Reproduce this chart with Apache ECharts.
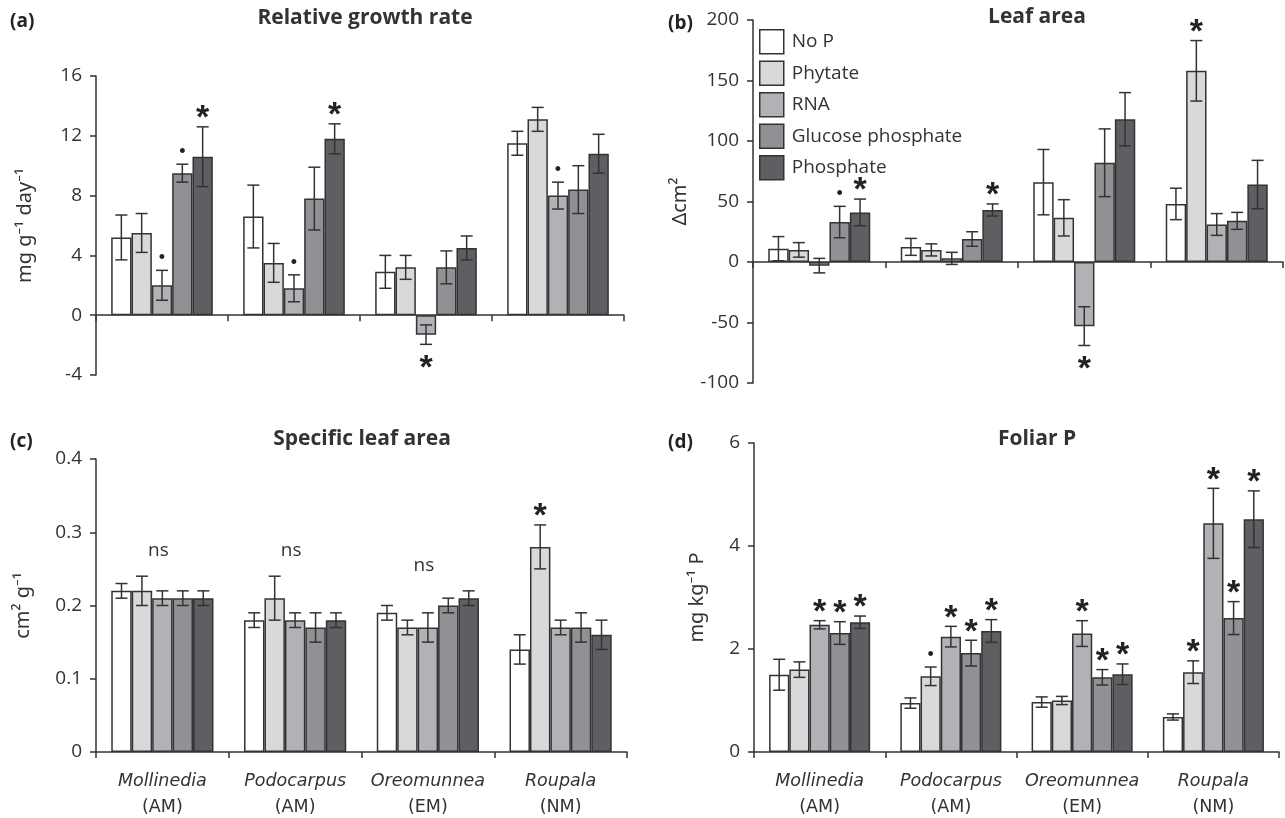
<!DOCTYPE html>
<html lang="en">
  <head>
    <meta charset="UTF-8" />
    <title>P forms - growth responses</title>
    <script src="https://cdn.jsdelivr.net/npm/echarts@6/dist/echarts.min.js"></script>
    <style>
      html, body { margin: 0; padding: 0; background: #fff; }
      #main { width: 1285px; height: 818px; }
    </style>
  </head>
  <body>
    <div id="main"></div>
    <script>
      // species and treatments
      var genus = ["Mollinedia", "Podocarpus", "Oreomunnea", "Roupala"];
      var guild = ["AM", "AM", "EM", "NM"];
      var treatments = ["No P", "Phytate", "RNA", "Glucose phosphate", "Phosphate"];
      var colors = ["#ffffff", "#d8d9db", "#b1b2b5", "#909195", "#5e5f62"];

      // (a) relative growth rate, rows = treatment, cols = species
      var rgrMean = [
        [5.2, 6.6, 2.9, 11.5],
        [5.5, 3.5, 3.2, 13.1],
        [2.0, 1.8, -1.3, 8.0],
        [9.5, 7.8, 3.2, 8.4],
        [10.6, 11.8, 4.5, 10.8]
      ];
      var rgrErr = [
        [1.5, 2.1, 1.1, 0.8],
        [1.3, 1.3, 0.8, 0.8],
        [1.0, 0.9, 0.65, 0.9],
        [0.6, 2.1, 1.1, 1.6],
        [2.0, 1.0, 0.8, 1.3]
      ];
      var rgrSig = [
        ["", "", "", ""],
        ["", "", "", ""],
        ["•", "•", "*", "•"],
        ["•", "", "", ""],
        ["*", "*", "", ""]
      ];

      // (b) leaf area
      var leafMean = [
        [11, 12.5, 66, 48],
        [10, 10, 36.5, 158],
        [-3, 3, -53, 31],
        [33, 19, 82, 34],
        [41, 43, 118, 64]
      ];
      var leafErr = [
        [10, 7, 27, 13],
        [6, 5, 15, 25],
        [6, 5, 16, 9],
        [13, 6, 28, 7],
        [11, 5, 22, 20]
      ];
      var leafSig = [
        ["", "", "", ""],
        ["", "", "", "*"],
        ["", "", "*", ""],
        ["•", "", "", ""],
        ["*", "*", "", ""]
      ];

      // (c) specific leaf area
      var slaMean = [
        [0.22, 0.18, 0.19, 0.14],
        [0.22, 0.21, 0.17, 0.28],
        [0.21, 0.18, 0.17, 0.17],
        [0.21, 0.17, 0.20, 0.17],
        [0.21, 0.18, 0.21, 0.16]
      ];
      var slaErr = [
        [0.01, 0.01, 0.01, 0.02],
        [0.02, 0.03, 0.01, 0.03],
        [0.01, 0.01, 0.02, 0.01],
        [0.01, 0.02, 0.01, 0.02],
        [0.01, 0.01, 0.01, 0.02]
      ];
      var slaSig = [
        ["", "", "", ""],
        ["", "", "", "*"],
        ["", "", "", ""],
        ["", "", "", ""],
        ["", "", "", ""]
      ];
      var slaNote = ["ns", "ns", "ns", ""];

      // (d) foliar P
      var folMean = [
        [1.5, 0.95, 0.97, 0.68],
        [1.6, 1.47, 1.0, 1.55],
        [2.47, 2.24, 2.3, 4.44],
        [2.31, 1.92, 1.45, 2.6],
        [2.52, 2.35, 1.51, 4.52]
      ];
      var folErr = [
        [0.3, 0.1, 0.1, 0.06],
        [0.15, 0.18, 0.08, 0.22],
        [0.08, 0.2, 0.25, 0.68],
        [0.22, 0.25, 0.15, 0.32],
        [0.12, 0.22, 0.2, 0.55]
      ];
      var folSig = [
        ["", "", "", ""],
        ["", "•", "", "*"],
        ["*", "*", "*", "*"],
        ["*", "*", "*", "*"],
        ["*", "*", "*", "*"]
      ];

      var ink = "#333";
      var font = "Open Sans";
      var catFont = "DejaVu Sans";
      var catGap = 0.23;

      var panels = [
        { mean: rgrMean, err: rgrErr, sig: rgrSig, min: -4, max: 16, step: 4, name: "mg g\u207B\u00B9 day\u207B\u00B9", gap: 61, cats: false },
        { mean: leafMean, err: leafErr, sig: leafSig, min: -100, max: 200, step: 50, name: "\u0394cm\u00B2", gap: 63, cats: false },
        { mean: slaMean, err: slaErr, sig: slaSig, min: 0, max: 0.4, step: 0.1, name: "cm\u00B2 g\u207B\u00B9", gap: 63, cats: true },
        { mean: folMean, err: folErr, sig: folSig, min: 0, max: 6, step: 2, name: "mg kg\u207B\u00B9 P", gap: 47, cats: true }
      ];

      var grids = [
        { left: 96, top: 76, width: 528, height: 299 },
        { left: 753, top: 20, width: 530, height: 363 },
        { left: 96, top: 459, width: 531, height: 293 },
        { left: 754, top: 443, width: 525, height: 309 }
      ];

      function errorSeries(p, t) {
        var means = panels[p].mean[t];
        var errs = panels[p].err[t];
        var sigs = panels[p].sig[t];
        return {
          type: "custom",
          xAxisIndex: p,
          yAxisIndex: p,
          z: 5,
          silent: true,
          data: means.map(function (m, i) { return [i, m, errs[i]]; }),
          renderItem: function (params, api) {
            var i = api.value(0), m = api.value(1), e = api.value(2);
            var band = api.size([1, 0])[0];
            var bw = (band * (1 - catGap)) / 5;
            var x = api.coord([i, 0])[0] + (t - 2) * bw;
            var hi = api.coord([i, m + e])[1];
            var lo = api.coord([i, m - e])[1];
            var st = { stroke: ink, lineWidth: 1.5 };
            var kids = [
              { type: "line", shape: { x1: x, y1: hi, x2: x, y2: lo }, style: st },
              { type: "line", shape: { x1: x - 6, y1: hi, x2: x + 6, y2: hi }, style: st },
              { type: "line", shape: { x1: x - 6, y1: lo, x2: x + 6, y2: lo }, style: st }
            ];
            var s = sigs[params.dataIndex];
            if (s) {
              var star = s === "*";
              var y = m >= 0 ? hi - (star ? 8 : 12) : lo + (star ? 24 : 12);
              kids.push({
                type: "text",
                style: {
                  x: x, y: y, text: s, fill: "#222",
                  font: star ? "bold 34px 'Liberation Sans'" : "18px 'Liberation Sans'",
                  align: "center", verticalAlign: "middle"
                }
              });
            }
            // "ns" note above the group
            if (p === 2 && t === 2 && slaNote[i]) {
              var top = 0;
              for (var j = 0; j < 5; j++) {
                top = Math.max(top, panels[p].mean[j][i] + panels[p].err[j][i]);
              }
              kids.push({
                type: "text",
                style: {
                  x: api.coord([i, 0])[0] - 4, y: api.coord([i, top + 0.035])[1],
                  text: slaNote[i], fill: ink, font: "19px '" + font + "'",
                  align: "center", verticalAlign: "middle"
                }
              });
            }
            return { type: "group", children: kids };
          }
        };
      }

      var xAxes = [], yAxes = [], series = [];
      panels.forEach(function (pn, p) {
        xAxes.push({
          type: "category",
          gridIndex: p,
          data: genus,
          axisLine: { onZero: true, lineStyle: { color: ink, width: 1.5 } },
          axisTick: { show: true, interval: 0, length: 6, lineStyle: { color: ink, width: 1.5 } },
          axisLabel: {
            show: pn.cats,
            interval: 0,
            hideOverlap: false,
            margin: 16,
            color: ink,
            fontFamily: catFont,
            formatter: function (v, i) { return "{g|" + v + "}\n{m|(" + guild[i] + ")}"; },
            rich: {
              g: { fontStyle: "italic", fontSize: 17.5, lineHeight: 26, fontFamily: catFont, color: ink },
              m: { fontSize: 17.5, lineHeight: 26, fontFamily: catFont, color: ink }
            }
          },
          splitLine: { show: false }
        });
        yAxes.push({
          type: "value",
          gridIndex: p,
          min: pn.min,
          max: pn.max,
          interval: pn.step,
          name: pn.name,
          nameLocation: "middle",
          nameRotate: 90,
          nameGap: pn.gap,
          nameTextStyle: { fontSize: 20, color: ink, fontFamily: "Noto Sans" },
          axisLine: { show: true, onZero: false, lineStyle: { color: ink, width: 1.5 } },
          axisTick: { show: true, length: 6, lineStyle: { color: ink, width: 1.5 } },
          axisLabel: { fontSize: 19, color: ink, fontFamily: font, margin: 14 },
          splitLine: { show: false }
        });
        treatments.forEach(function (name, t) {
          series.push({
            name: name,
            type: "bar",
            xAxisIndex: p,
            yAxisIndex: p,
            barGap: "0%",
            barCategoryGap: catGap * 100 + "%",
            itemStyle: { color: colors[t], borderColor: ink, borderWidth: 1.5 },
            data: pn.mean[t]
          });
          series.push(errorSeries(p, t));
        });
      });

      var titleStyle = { fontSize: 21, fontWeight: "bold", color: ink, fontFamily: font };
      var tagStyle = { fontSize: 19, fontWeight: "bold", color: "#222", fontFamily: font };

      var chart = echarts.init(document.getElementById("main"));
      chart.setOption({
        animation: false,
        backgroundColor: "#fff",
        title: [
          { text: "(a)", left: 5, top: 7, textStyle: tagStyle },
          { text: "Relative growth rate", left: 360, top: 3, textAlign: "center", textStyle: titleStyle },
          { text: "(b)", left: 663, top: 9, textStyle: tagStyle },
          { text: "Leaf area", left: 1032, top: 2, textAlign: "center", textStyle: titleStyle },
          { text: "(c)", left: 5, top: 427, textStyle: tagStyle },
          { text: "Specific leaf area", left: 357, top: 424, textAlign: "center", textStyle: titleStyle },
          { text: "(d)", left: 663, top: 428, textStyle: tagStyle },
          { text: "Foliar P", left: 1032, top: 424, textAlign: "center", textStyle: titleStyle }
        ],
        legend: {
          data: treatments,
          orient: "vertical",
          left: 759,
          top: 29,
          padding: 0,
          itemWidth: 24,
          itemHeight: 24,
          itemGap: 6,
          icon: "rect",
          itemStyle: { borderColor: ink, borderWidth: 1.5 },
          textStyle: { fontSize: 19, color: ink, fontFamily: font, padding: [0, 0, 0, 3] }
        },
        grid: grids,
        xAxis: xAxes,
        yAxis: yAxes,
        series: series
      });
    </script>
  </body>
</html>
